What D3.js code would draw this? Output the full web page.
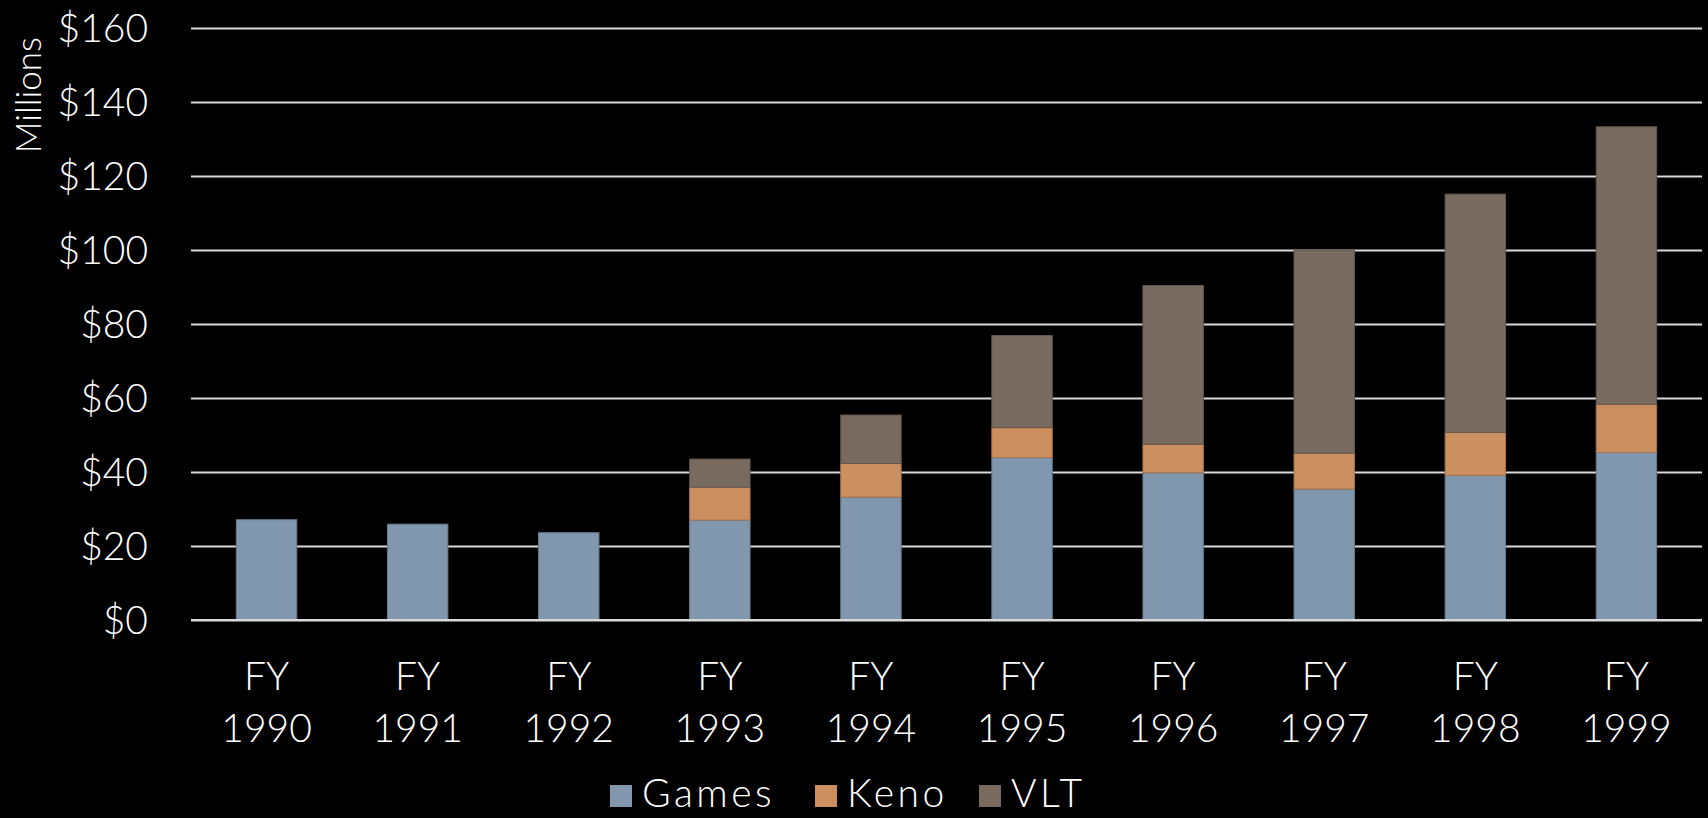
<!DOCTYPE html>
<html>
<head>
<meta charset="utf-8">
<script src="https://cdn.jsdelivr.net/npm/d3@7"></script>
<style>
  html, body { margin: 0; padding: 0; background: #000; }
  svg { display: block; }
  text { font-family: "Century Gothic", "Lato", "DejaVu Sans", sans-serif; font-weight: 300; fill: #fff; }
</style>
</head>
<body>
<div id="chart"></div>
<script>
// stacked revenue by fiscal year

var years = ["1990", "1991", "1992", "1993", "1994", "1995", "1996", "1997", "1998", "1999"];
var series = ["Games", "Keno", "VLT"];
var games = [27.1, 25.9, 23.6, 27.0, 33.2, 43.9, 39.8, 35.4, 39.1, 45.3];
var keno = [0, 0, 0, 8.9, 9.1, 8.1, 7.7, 9.7, 11.6, 13.0];
var vlt = [0, 0, 0, 7.6, 13.1, 24.9, 42.9, 54.8, 64.4, 75.0];
var yTicks = [0, 20, 40, 60, 80, 100, 120, 140, 160];
var colors = ["#8097ae", "#cc8f60", "#7a6b60"];

var width = 1708, height = 818;
var margin = { top: 28, right: 6, bottom: 198, left: 191 };

var rows = years.map(function(y, i) {
    return { year: y, Games: games[i], Keno: keno[i], VLT: vlt[i] };
});

var svg = d3.select("#chart").append("svg")
    .attr("width", width)
    .attr("height", height);

var x = d3.scaleBand()
    .domain(years)
    .range([margin.left, width - margin.right])
    .paddingInner(0.6)
    .paddingOuter(0.3);

var y = d3.scaleLinear()
    .domain([0, 160])
    .range([height - margin.bottom, margin.top]);

var color = d3.scaleOrdinal().domain(series).range(colors);

// gridlines + tick labels
var yAxis = d3.axisLeft(y)
    .tickValues(yTicks)
    .tickSize(-(width - margin.left - margin.right))
    .tickFormat(function(d) { return "$" + d; });

var gy = svg.append("g")
    .attr("transform", "translate(" + margin.left + ",0)")
    .call(yAxis);
gy.select(".domain").remove();
gy.selectAll(".tick line")
    .attr("stroke", "#d9d9d9")
    .attr("stroke-width", 2);
gy.selectAll(".tick text")
    .attr("x", -43)
    .attr("dy", "0.35em")
    .style("font-size", "39px");

svg.append("text")
    .attr("transform", "translate(41,37) rotate(-90)")
    .attr("text-anchor", "end")
    .style("font-size", "35px")
    .text("Millions");

// stacked bars
var stacked = d3.stack().keys(series)(rows);

svg.append("g").selectAll("g")
    .data(stacked)
    .enter().append("g")
    .attr("fill", function(d) { return color(d.key); })
    .attr("stroke", function(d) { return d3.color(color(d.key)).darker(0.6); })
    .attr("stroke-width", 1)
    .selectAll("rect")
    .data(function(d) { return d.filter(function(p) { return p[1] - p[0] > 0; }); })
    .enter().append("rect")
    .attr("x", function(d) { return x(d.data.year); })
    .attr("width", x.bandwidth())
    .attr("y", function(d) { return y(d[1]); })
    .attr("height", function(d) { return y(d[0]) - y(d[1]); });

// redraw baseline on top
svg.append("line")
    .attr("x1", margin.left)
    .attr("x2", width - margin.right)
    .attr("y1", y(0))
    .attr("y2", y(0))
    .attr("stroke", "#d9d9d9")
    .attr("stroke-width", 2);

// category labels
var gx = svg.append("g");
years.forEach(function(yr) {
    var cx = x(yr) + x.bandwidth() / 2;
    var t = gx.append("text")
        .attr("text-anchor", "middle")
        .attr("x", cx)
        .attr("y", 690)
        .style("font-size", "39px");
    t.append("tspan").attr("x", cx).text("FY");
    t.append("tspan").attr("x", cx).attr("dy", 52).text(yr);
});

// legend
var legendX = [610, 815, 979];
var lg = svg.append("g");
series.forEach(function(s, i) {
    lg.append("rect")
        .attr("x", legendX[i])
        .attr("y", 785)
        .attr("width", 22)
        .attr("height", 22)
        .attr("fill", color(s));
    lg.append("text")
        .attr("x", legendX[i] + 32)
        .attr("y", 807)
        .style("font-size", "39px")
        .style("letter-spacing", "3.5px")
        .text(s);
});
</script>
</body>
</html>
